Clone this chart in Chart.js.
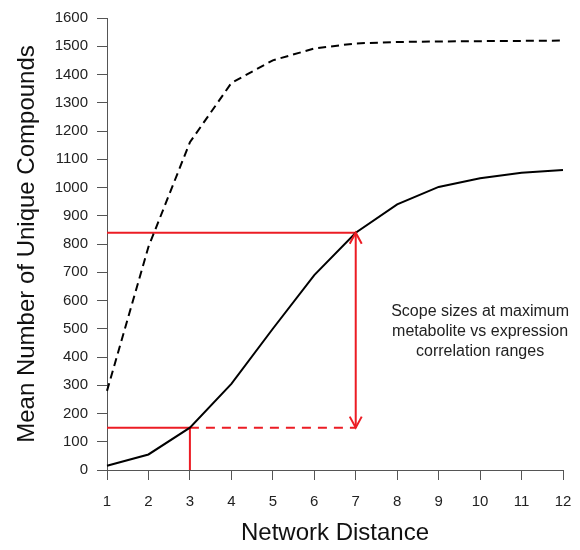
<!DOCTYPE html>
<html>
<head>
<meta charset="utf-8">
<script src="https://cdn.jsdelivr.net/npm/chart.js@4"></script>
<style>
  body { margin: 0; background: #fff; }
  #wrap { width: 580px; height: 550px; }
</style>
</head>
<body>
<div id="wrap"><canvas id="myChart" width="580" height="550"></canvas></div>
<script>
// network distance 1..12
var distance = [1, 2, 3, 4, 5, 6, 7, 8, 9, 10, 11, 12];
// dashed curve (upper) and solid curve (lower)
var upperMean = [280, 790, 1160, 1370, 1450, 1492, 1510, 1515, 1517, 1518, 1519, 1520];
var lowerMean = [15, 55, 150, 305, 500, 690, 840, 940, 1002, 1033, 1052, 1062];

// red marker lines
var highRange = { x: 7, y: 840 };
var lowRange = { x: 3, y: 150 };
var noteLines = ['Scope sizes at maximum', 'metabolite vs expression', 'correlation ranges'];

var red = '#ec1c24';
var font = "'Liberation Sans', Arial, Helvetica, sans-serif";

function pts(xs, ys) {
  var out = [];
  for (var i = 0; i < xs.length; i++) out.push({ x: xs[i], y: ys[i] });
  return out;
}

// arrow heads + note text
var extras = {
  id: 'extras',
  afterDatasetsDraw: function (chart) {
    var ctx = chart.ctx;
    var xs = chart.scales.x, ys = chart.scales.y;
    var ax = xs.getPixelForValue(highRange.x);
    var top = ys.getPixelForValue(highRange.y);
    var bot = ys.getPixelForValue(lowRange.y);
    ctx.save();
    ctx.strokeStyle = red;
    ctx.lineWidth = 2;
    ctx.beginPath();
    ctx.moveTo(ax - 6, top + 11); ctx.lineTo(ax, top); ctx.lineTo(ax + 6, top + 11);
    ctx.moveTo(ax - 6, bot - 11); ctx.lineTo(ax, bot); ctx.lineTo(ax + 6, bot - 11);
    ctx.stroke();

    ctx.fillStyle = '#222';
    ctx.font = '16px ' + font;
    ctx.textAlign = 'center';
    ctx.textBaseline = 'middle';
    var tx = xs.getPixelForValue(10.0);
    var ty = ys.getPixelForValue(560);
    for (var i = 0; i < noteLines.length; i++) {
      ctx.fillText(noteLines[i], tx, ty + i * 20);
    }
    ctx.restore();
  }
};

var ctx = document.getElementById('myChart').getContext('2d');
var chart = new Chart(ctx, {
  type: 'line',
  data: {
    datasets: [{
      data: pts(distance, upperMean),
      borderColor: '#000',
      borderWidth: 2,
      borderDash: [8, 5],
      pointRadius: 0
    }, {
      data: pts(distance, lowerMean),
      borderColor: '#000',
      borderWidth: 2,
      pointRadius: 0
    }, {
      data: [{ x: 1, y: highRange.y }, { x: highRange.x, y: highRange.y }],
      borderColor: red, borderWidth: 2, pointRadius: 0
    }, {
      data: [{ x: highRange.x, y: highRange.y }, { x: highRange.x, y: lowRange.y }],
      borderColor: red, borderWidth: 2, pointRadius: 0
    }, {
      data: [{ x: 1, y: lowRange.y }, { x: lowRange.x, y: lowRange.y }],
      borderColor: red, borderWidth: 2, pointRadius: 0
    }, {
      data: [{ x: lowRange.x, y: lowRange.y }, { x: highRange.x, y: lowRange.y }],
      borderColor: red, borderWidth: 2, borderDash: [9, 7], pointRadius: 0
    }, {
      data: [{ x: lowRange.x, y: lowRange.y }, { x: lowRange.x, y: 0 }],
      borderColor: red, borderWidth: 2, pointRadius: 0
    }]
  },
  options: {
    responsive: false,
    animation: false,
    clip: false,
    layout: { padding: { top: 15, right: 0, left: 0, bottom: 0 } },
    plugins: {
      legend: { display: false },
      tooltip: { enabled: false }
    },
    scales: {
      x: {
        type: 'linear',
        min: 1,
        max: 12,
        afterFit: function (s) { s.height = 80; s.paddingRight = 17; },
        ticks: { stepSize: 1, color: '#222', padding: 13, font: { size: 15, family: font },
          callback: function (v) { return String(v); } },
        grid: { drawOnChartArea: false, drawTicks: true, tickLength: 10, color: '#555' },
        border: { color: '#555', width: 1 },
        title: { display: true, text: 'Network Distance', color: '#111', font: { size: 24, family: font }, padding: { top: 0, bottom: 2 } }
      },
      y: {
        min: 0,
        max: 1600,
        afterFit: function (s) { s.width = 107; },
        ticks: { stepSize: 100, color: '#222', padding: 9, font: { size: 15, family: font },
          callback: function (v) { return String(v); } },
        grid: { drawOnChartArea: false, drawTicks: true, tickLength: 10, color: '#555' },
        border: { color: '#555', width: 1 },
        title: { display: true, text: 'Mean Number of Unique Compounds', color: '#111', font: { size: 24, family: font }, padding: { top: 13, bottom: 0 } }
      }
    }
  },
  plugins: [extras]
});
</script>
</body>
</html>
